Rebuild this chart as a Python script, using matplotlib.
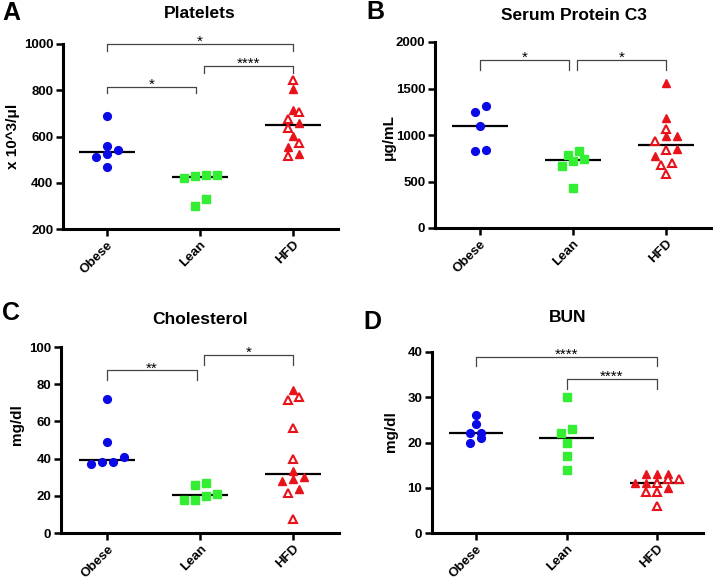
import numpy as np
import matplotlib
matplotlib.use("Agg")
import matplotlib.pyplot as plt

plt.rcParams['font.family'] = ['Liberation Sans', 'DejaVu Sans']
plt.rcParams['font.weight'] = 'bold'

groups = ["Obese", "Lean", "HFD"]

# panel A - platelets
plt_obese = [687, 540, 525, 560, 512, 470]
plt_lean = [432, 430, 422, 432, 330, 300]
plt_hfd_filled = [805, 715, 556, 602, 660, 524]
plt_hfd_open = [845, 706, 675, 638, 573, 515]

# panel B - serum protein C3
c3_obese = [1242, 1314, 1099, 826, 837]
c3_lean = [783, 725, 829, 664, 743, 427]
c3_hfd_filled = [1558, 1181, 991, 984, 776, 851]
c3_hfd_open = [937, 1066, 840, 675, 704, 582]

# panel C - cholesterol
chol_obese = [72, 49, 41, 38, 37, 38]
chol_lean = [27, 26, 20, 21, 18, 18]
chol_hfd_filled = [77, 33.5, 28.8, 27.9, 29.9, 23.7]
chol_hfd_open = [73, 71.6, 56.7, 39.7, 21.6, 7.6]

# panel D - BUN
bun_obese = [26, 24, 22, 22, 20, 21]
bun_lean = [30, 23, 22, 20, 17, 14]
bun_hfd_filled = [13, 13, 13, 11, 10, 11]
bun_hfd_open = [11, 12, 12, 9, 9, 6]

BLUE = '#0a0ae6'
GREEN = '#33ee33'
RED = '#e8131a'

W, H = 713, 578
fig = plt.figure(figsize=(W / 100, H / 100), dpi=100)


def px_rect(l, r, t, b):
    return [l / W, 1 - b / H, (r - l) / W, (b - t) / H]


def spread(vals, ppu, ppx, tol=8, gap=11):
    # prism-like scatter: points that sit close in y share a row and are spread sideways
    vals = np.asarray(vals, dtype=float)
    order = np.argsort(vals, kind='stable')
    rows = [[order[0]]]
    for idx in order[1:]:
        if (vals[idx] - vals[rows[-1][0]]) * ppu < tol:
            rows[-1].append(idx)
        else:
            rows.append([idx])
    offs = np.zeros(len(vals))
    for row in rows:
        n = len(row)
        for k, idx in enumerate(row):
            offs[idx] = (k - (n - 1) / 2) * gap / ppx
    return offs


def panel(rect, xlim, ylim, yticks, data, brackets, ylabel, title, letter,
          title_xy, letter_xy, ylab_xy):
    ax = fig.add_axes(px_rect(*rect))
    ax.set_xlim(*xlim)
    ax.set_ylim(*ylim)
    ax_h = rect[3] - rect[2]
    ax_w = rect[1] - rect[0]
    ppu = ax_h / (ylim[1] - ylim[0])
    ppx = ax_w / (xlim[1] - xlim[0])

    obese, lean, hfd_f, hfd_o = data
    hfd_all = list(hfd_f) + list(hfd_o)
    allsets = [obese, lean, hfd_all]

    for i, vals in enumerate(allsets):
        med = np.median(vals)
        ax.plot([i - 0.3, i + 0.3], [med, med], color='black', lw=1.6, zorder=2,
                solid_capstyle='butt')

    ox = spread(obese, ppu, ppx)
    ax.plot(0 + ox, obese, 'o', color=BLUE, ms=5.6, mec=BLUE, zorder=3, clip_on=False)
    lx = spread(lean, ppu, ppx)
    ax.plot(1 + lx, lean, 's', color=GREEN, ms=5.3, mec=GREEN, zorder=3, clip_on=False)
    hx = spread(hfd_all, ppu, ppx)
    nf = len(hfd_f)
    ax.plot(2 + hx[:nf], hfd_f, '^', color=RED, ms=5.8, mec=RED, zorder=3, clip_on=False)
    ax.plot(2 + hx[nf:], hfd_o, '^', mfc='white', mec=RED, mew=1.5, ms=5.2, zorder=3,
            clip_on=False)

    for x1, x2, y, drop, lab in brackets:
        ax.plot([x1, x1, x2, x2], [y - drop, y, y, y - drop], color='#444444', lw=0.9,
                clip_on=False, zorder=4)
        ax.annotate(lab, xy=((x1 + x2) / 2, y), xytext=(0, -1.5),
                    textcoords='offset points', ha='center', va='baseline',
                    fontsize=11, fontweight='normal', annotation_clip=False)

    for s in ['top', 'right']:
        ax.spines[s].set_visible(False)
    for s in ['left', 'bottom']:
        ax.spines[s].set_linewidth(2.2)
    ax.set_yticks(yticks)
    ax.set_xticks(range(3))
    ax.set_xticklabels(groups, rotation=45, ha='right', rotation_mode='anchor')
    ax.tick_params(axis='both', width=1.8, length=5, labelsize=9.5, pad=2)
    for lbl in ax.get_xticklabels() + ax.get_yticklabels():
        lbl.set_fontweight('bold')

    fig.text(title_xy[0] / W, 1 - title_xy[1] / H, title, ha='center', va='center',
             fontsize=12.5, fontweight='bold')
    fig.text(letter_xy[0] / W, 1 - letter_xy[1] / H, letter, ha='center', va='center',
             fontsize=18, fontweight='bold')
    fig.text(ylab_xy[0] / W, 1 - ylab_xy[1] / H, ylabel, ha='center', va='center',
             rotation=90, fontsize=11, fontweight='bold')
    return ax


panel((63, 338, 44, 229), (-0.47, 2.48), (200, 1000), range(200, 1001, 200),
      (plt_obese, plt_lean, plt_hfd_filled, plt_hfd_open),
      [(0, 2, 1000, 30, '*'), (0, 0.96, 816, 30, '*'), (1.04, 2, 906, 30, '****')],
      'x 10^3/\u03bcl', 'Platelets', 'A', (200, 14), (11, 13), (13, 136))

panel((435, 713, 42, 228), (-0.484, 2.505), (0, 2000), range(0, 2001, 500),
      (c3_obese, c3_lean, c3_hfd_filled, c3_hfd_open),
      [(0, 0.96, 1810, 110, '*'), (1.04, 2, 1810, 110, '*')],
      '\u03bcg/mL', 'Serum Protein C3', 'B', (574, 15), (375, 12), (389, 137))

panel((61, 339, 347, 533), (-0.495, 2.49), (0, 100), range(0, 101, 20),
      (chol_obese, chol_lean, chol_hfd_filled, chol_hfd_open),
      [(0, 0.96, 87.4, 5.4, '**'), (1.04, 2, 95.9, 5.4, '*')],
      'mg/dl', 'Cholesterol', 'C', (200, 319), (11, 313), (17, 425))

panel((432, 703, 352, 533), (-0.486, 2.508), (0, 40), range(0, 41, 10),
      (bun_obese, bun_lean, bun_hfd_filled, bun_hfd_open),
      [(0, 2, 39.0, 2.2, '****'), (1.0, 2, 34.1, 2.2, '****')],
      'mg/dl', 'BUN', 'D', (568, 317), (372, 322), (391, 432))

fig.savefig('out.png', dpi=100)
